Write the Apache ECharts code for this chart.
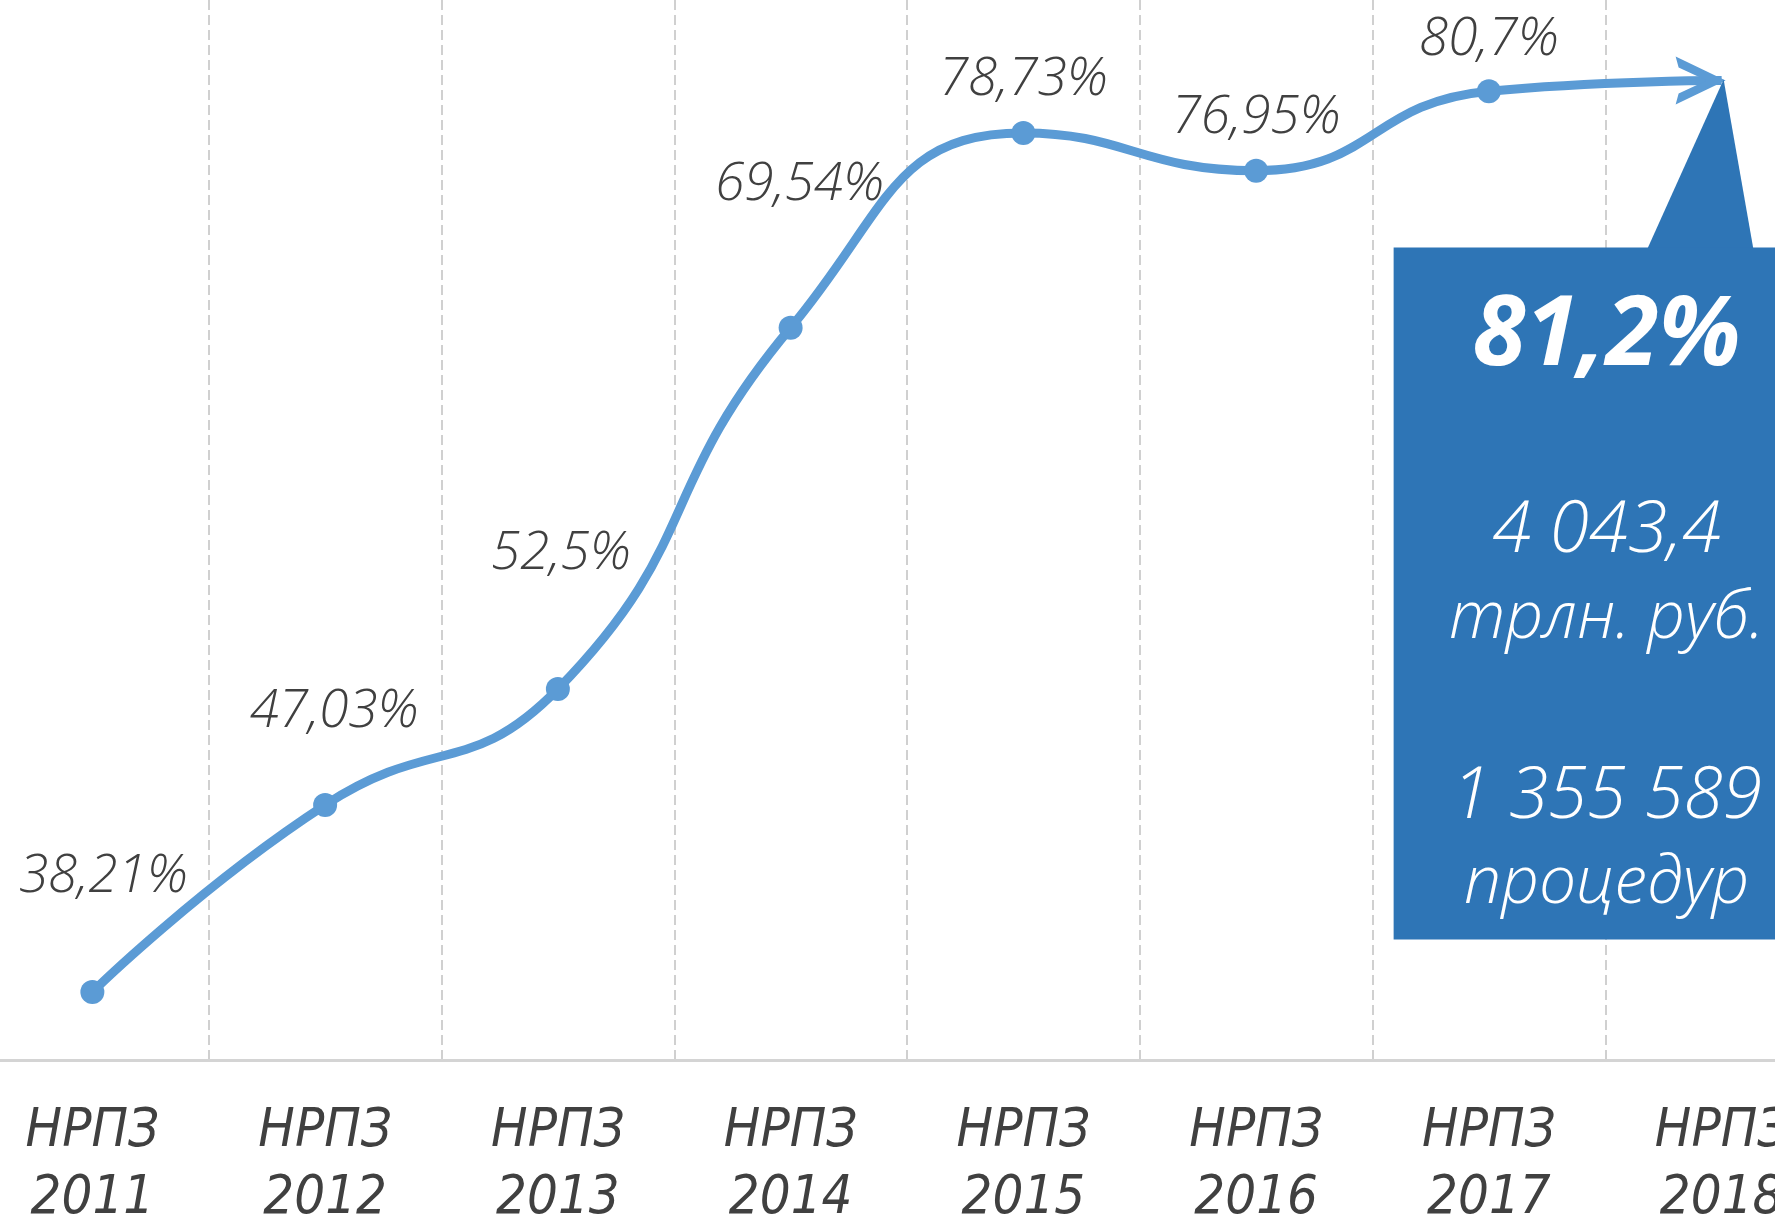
<!DOCTYPE html>
<html>
<head>
<meta charset="utf-8">
<script src="https://cdn.jsdelivr.net/npm/echarts@6/dist/echarts.min.js"></script>
<style>
  html, body { margin: 0; padding: 0; background: #fff; }
  #chart { width: 1775px; height: 1219px; }
</style>
</head>
<body>
<div id="chart"></div>
<script>
var categories = ["НРПЗ\n2011", "НРПЗ\n2012", "НРПЗ\n2013", "НРПЗ\n2014",
  "НРПЗ\n2015", "НРПЗ\n2016", "НРПЗ\n2017", "НРПЗ\n2018"];
var shares = [38.21, 47.03, 52.5, 69.54, 78.73, 76.95, 80.7, 81.2];
var calloutLines = ["81,2%", "4 043,4", "трлн. руб.", "1 355 589", "процедур"];

var lineColor = "#5b9bd5";
var boxColor = "#2e75b6";
var textColor = "#404040";
var labelFont = "'Open Sans', Lato, 'Noto Sans', sans-serif";
var axisFont = "'DejaVu Sans Condensed', 'Liberation Sans Narrow', 'Noto Sans', sans-serif";

// label offsets from each point (px), last point carries the callout instead
var labelOffsets = [[11, -115], [9, -93], [3, -135], [9, -143], [0, -53], [0, -53], [0, -51]];

var arrowPath = "path://M0,0 L50,24 L0,48 L3,37 L31,24 L3,11 Z";

var chart = echarts.init(document.getElementById("chart"));

var seriesData = shares.map(function (v, i) {
  if (i === shares.length - 1) {
    return {
      value: v,
      symbol: arrowPath,
      symbolSize: [50, 48],
      symbolOffset: [-21, 0],
      label: { show: false },
    };
  }
  return {
    value: v,
    label: { offset: labelOffsets[i] },
  };
});

chart.setOption({
  animation: false,
  backgroundColor: "#ffffff",
  grid: {
    left: -24,
    right: -63,
    top: 0,
    bottom: 159,
    outerBoundsMode: "none",
  },
  xAxis: {
    type: "category",
    data: categories,
    boundaryGap: true,
    axisLine: { lineStyle: { color: "#d4d4d4", width: 3 } },
    axisTick: { show: false },
    axisLabel: {
      interval: 0,
      margin: 38,
      color: textColor,
      fontFamily: axisFont,
      fontStyle: "italic",
      fontSize: 54,
      lineHeight: 67,
    },
    splitLine: {
      show: true,
      lineStyle: { color: "#d0d0d0", width: 2, type: [10, 5] },
    },
  },
  yAxis: {
    type: "value",
    min: 35,
    max: 85,
    show: false,
    splitLine: { show: false },
  },
  series: [
    {
      type: "line",
      data: seriesData,
      smooth: 0.5,
      symbol: "circle",
      symbolSize: 24,
      showAllSymbol: true,
      lineStyle: { color: lineColor, width: 9 },
      itemStyle: { color: lineColor },
      label: {
        show: true,
        position: "inside",
        color: textColor,
        fontFamily: labelFont,
        fontStyle: "italic",
        fontWeight: 300,
        fontSize: 53,
        formatter: function (p) {
          return String(p.value).replace(".", ",") + "%";
        },
      },
    },
  ],
});

// callout anchored at the end of the line
var tip = chart.convertToPixel({ seriesIndex: 0 }, [shares.length - 1, shares[shares.length - 1]]);
var cx = tip[0] - 115;

function boxText(text, dy, font) {
  return {
    type: "text",
    x: cx,
    y: tip[1] + dy,
    style: {
      text: text,
      fill: "#ffffff",
      font: font,
      align: "center",
      verticalAlign: "middle",
    },
    z: 11,
  };
}

chart.setOption({
  graphic: [
    {
      type: "polygon",
      shape: {
        points: [
          [tip[0] + 2, tip[1] - 1],
          [tip[0] - 75, tip[1] + 170],
          [tip[0] + 32, tip[1] + 170],
        ],
      },
      style: { fill: boxColor },
      z: 10,
    },
    {
      type: "rect",
      shape: { x: tip[0] - 328, y: tip[1] + 167, width: 500, height: 692 },
      style: { fill: boxColor },
      z: 10,
    },
    boxText(calloutLines[0], 257, "italic bold 96px " + labelFont),
    boxText(calloutLines[1], 451, "italic 300 71px " + labelFont),
    boxText(calloutLines[2], 539, "italic 300 66px " + labelFont),
    boxText(calloutLines[3], 717, "italic 300 71px " + labelFont),
    boxText(calloutLines[4], 804, "italic 300 66px " + labelFont),
  ],
});
</script>
</body>
</html>
